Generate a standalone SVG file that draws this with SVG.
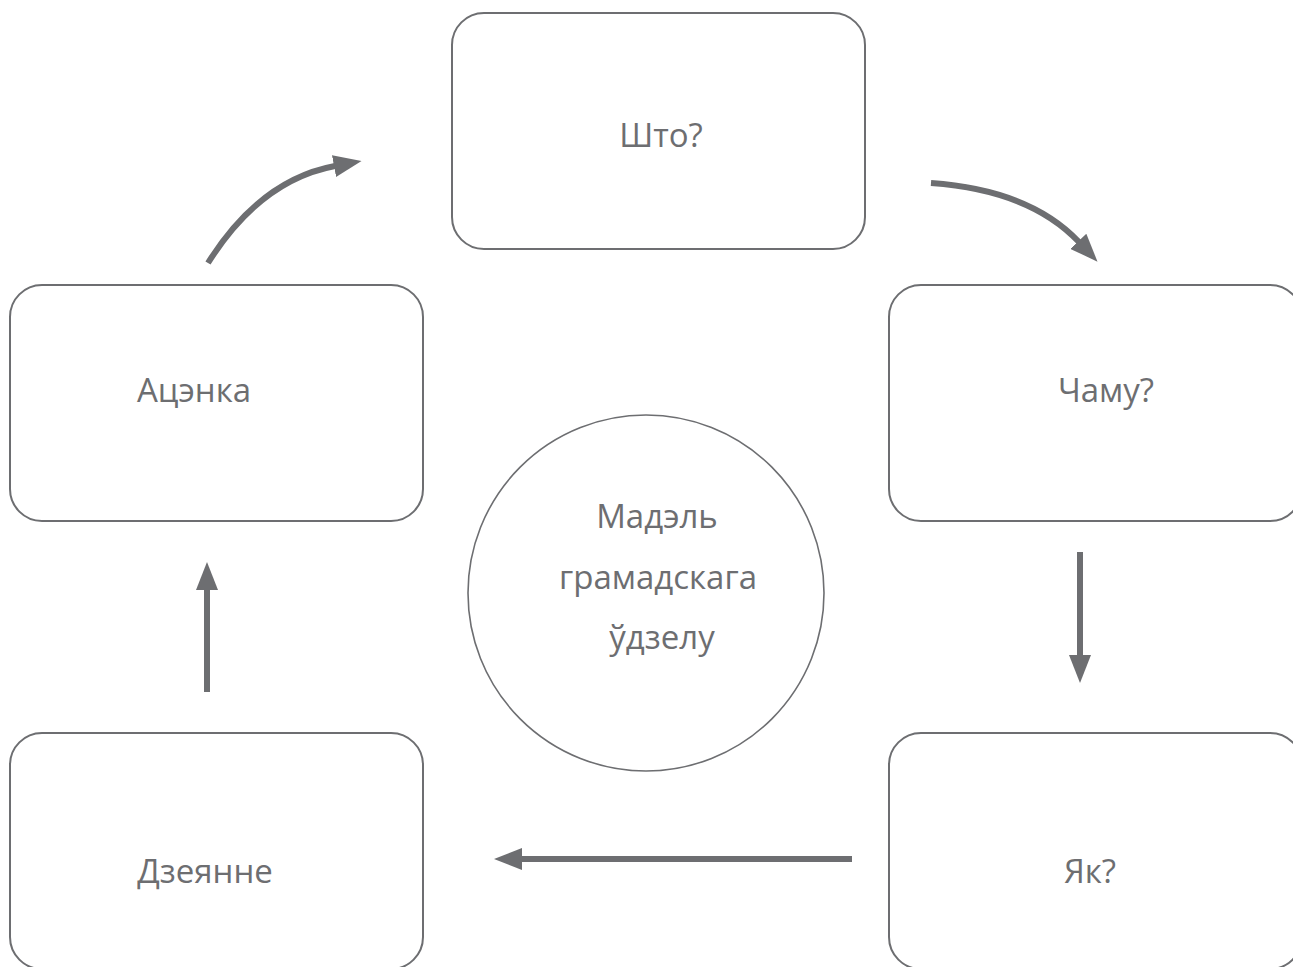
<svg xmlns="http://www.w3.org/2000/svg" width="1293" height="967" viewBox="0 0 1293 967">
<style>
.box{fill:#fff;stroke:#6d6e71;stroke-width:2}
.circ{fill:#fff;stroke:#6d6e71;stroke-width:1.6}
.lbl{font-family:"Open Sans","Noto Sans",sans-serif;font-size:33px;fill:#6d6e71;text-anchor:middle}
.arr{fill:none;stroke:#6d6e71;stroke-width:6;marker-end:url(#ah)}
</style>
<defs>
<marker id="ah" markerUnits="userSpaceOnUse" markerWidth="28" markerHeight="22" viewBox="0 0 28 22" refX="1" refY="11" orient="auto">
<path d="M0,0 L28,11 L0,22 z" fill="#6d6e71"/>
</marker>
</defs>
<rect width="1293" height="967" fill="#fff"/>
<g id="node-shto"><rect class="box" x="452" y="13" width="413" height="236" rx="32"/><text class="lbl" x="661" y="147">Што?</text></g>
<g id="node-chamu"><rect class="box" x="889" y="285" width="413" height="236" rx="32"/><text class="lbl" x="1106" y="402">Чаму?</text></g>
<g id="node-yak"><rect class="box" x="889" y="733" width="413" height="236" rx="32"/><text class="lbl" x="1090" y="883">Як?</text></g>
<g id="node-dzeyanne"><rect class="box" x="10" y="733" width="413" height="236" rx="32"/><text class="lbl" x="205" y="883">Дзеянне</text></g>
<g id="node-atsenka"><rect class="box" x="10" y="285" width="413" height="236" rx="32"/><text class="lbl" x="194" y="402">Ацэнка</text></g>
<g id="node-center"><circle class="circ" cx="646" cy="593" r="178"/>
<text class="lbl" x="657" y="528">Мадэль</text>
<text class="lbl" x="658" y="589">грамадскага</text>
<text class="lbl" x="662" y="649">ўдзелу</text></g>
<g id="connectors">
<path class="arr" d="M208,263 Q260,180 335,166"/>
<path class="arr" d="M931,183 Q1030,190 1079,242"/>
<path class="arr" d="M1080,552 L1080,656"/>
<path class="arr" d="M852,859 L521,859"/>
<path class="arr" d="M207,692 L207,589"/>
</g>
</svg>
